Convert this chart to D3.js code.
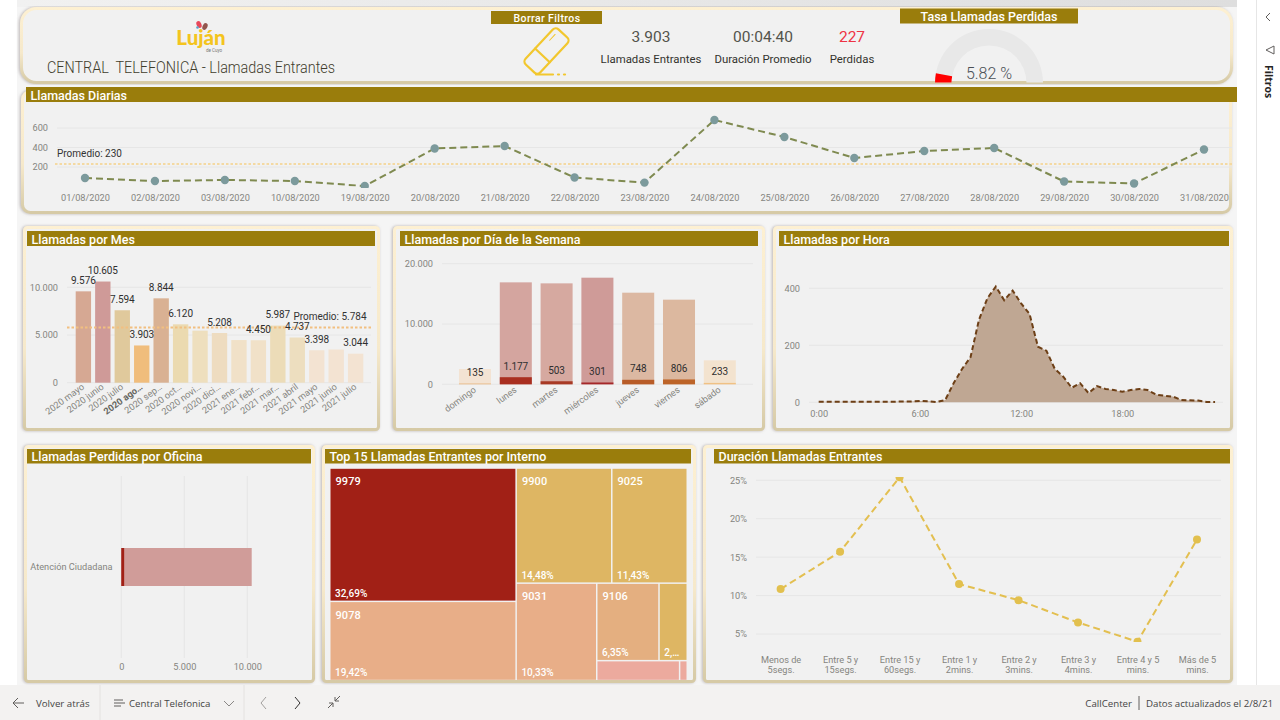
<!DOCTYPE html>
<html lang="es">
<head>
<meta charset="utf-8">
<title>Central Telefónica - Llamadas Entrantes</title>
<script src="https://cdn.jsdelivr.net/npm/d3@7"></script>
<style>
  html, body { margin: 0; padding: 0; background: #fff; overflow: hidden; }
  svg, svg text { font-family: Roboto, "Open Sans", sans-serif; }
  svg { display: block; }
  .tick text { fill: #85857f; font-size: 9.2px; }
  .grid line { stroke: #e6e6e6; stroke-width: 1; }
  .title { fill: #fff; font-size: 12.5px; font-weight: 500; }
  .value { fill: #2f2f2f; font-size: 10px; letter-spacing: -.1px; text-anchor: middle; dominant-baseline: central; }
  .kpi { fill: #54544c; font-size: 15.5px; text-anchor: middle; dominant-baseline: central; }
  .kpiName { fill: #33332e; font-size: 11.4px; text-anchor: middle; dominant-baseline: central; }
  svg text.bar { font-family: "Open Sans", sans-serif; font-size: 9.7px; fill: #454545; dominant-baseline: central; }
  svg text.brand { font-family: Lato, sans-serif; }
  svg text.side { font-family: "Open Sans", sans-serif; }
</style>
</head>
<body>
<svg id="chart" width="1280" height="720"></svg>
<script>
// Llamadas diarias (agosto 2020)
const dailyDates = ["01/08/2020","02/08/2020","03/08/2020","10/08/2020","19/08/2020","20/08/2020","21/08/2020","22/08/2020","23/08/2020","24/08/2020","25/08/2020","26/08/2020","27/08/2020","28/08/2020","29/08/2020","30/08/2020","31/08/2020"];
const dailyCalls = [87,56,67,56,5,390,415,92,40,682,508,292,364,395,51,31,380];
const dailyAverage = 230;

// Llamadas por mes
const months = ["2020 mayo","2020 junio","2020 julio","2020 ago…","2020 sep…","2020 oct…","2020 novi…","2020 dici…","2021 ene…","2021 febr…","2021 mar…","2021 abril","2021 mayo","2021 junio","2021 julio"];
const monthCalls = [9576,10605,7594,3903,8844,6120,5454,5208,4470,4450,5987,4737,3398,3480,3044];
const monthsWithLabel = ["2020 mayo","2020 junio","2020 julio","2020 ago…","2020 sep…","2020 oct…","2020 dici…","2021 febr…","2021 mar…","2021 abril","2021 mayo","2021 julio"];
const monthColors = ["#d6a893","#cf9a98","#e0c99c","#f0bd7c","#d9b193","#ebdab0","#eedfbe","#eedcc0","#f1e1c8","#f1e1c8","#ecdcb8","#eddebf","#f3e3d2","#f3e3d2","#f3e3d2"];
const monthAverage = 5784;

// Llamadas por día de la semana
const weekdays = ["domingo","lunes","martes","miércoles","jueves","viernes","sábado"];
const weekdayTotal = [2540,16906,16740,17680,15193,14033,3978];
const weekdayLost = [135,1177,503,301,748,806,233];
const weekdayTotalColors = ["#f3e3d3","#d4a59f","#d6a9a0","#cf9b98","#dcb8a2","#dcb89f","#f3e3cf"];
const weekdayLostColors = ["#e8b984","#a92f20","#a83a25","#a5282a","#b85c28","#bd6428","#f0c184"];

// Llamadas por hora, una muestra cada media hora
const hourlyCalls = [2,2,2,2,2,2,2,2,2,2,3,3,5,4,1,8,67,117,158,289,365,406,358,392,347,310,195,181,117,90,51,67,32,57,47,43,37,43,47,43,27,23,20,8,7,6,1,1];
const hourTicks = [0,6,12,18];

// Llamadas perdidas por oficina
const offices = ["Atención Ciudadana"];
const officeTotal = [10349];
const officeLost = [227];

// Top de internos, agrupados según el mosaico del treemap
const treemapLayout = {children: [
  {children: [{name: "9979", pct: 32.69, color: "#a12016"}, {name: "9078", pct: 19.42, color: "#e8ae88"}]},
  {children: [
    {children: [{name: "9900", pct: 14.48, color: "#deb663"}, {name: "9025", pct: 11.43, color: "#deb663"}]},
    {children: [
      {name: "9031", pct: 10.33, color: "#e8ae88"},
      {children: [
        {children: [{name: "9106", pct: 6.35, color: "#e4af80"}, {name: "", pct: 2.88, color: "#deb663", short: "2,…"}]},
        {children: [{name: "", pct: 2.17, color: "#ecaa9e", hidden: true}, {name: "", pct: 0.2, color: "#ecaa9e", hidden: true}]}
      ]}
    ]}
  ]}
]};

// Duración de las llamadas entrantes
const durationBands = [["Menos de","5segs."],["Entre 5 y","15segs."],["Entre 15 y","60segs."],["Entre 1 y","2mins."],["Entre 2 y","3mins."],["Entre 3 y","4mins."],["Entre 4 y 5","mins."],["Más de 5","mins."]];
const durationShare = [10.85,15.7,25.4,11.5,9.4,6.5,4.0,17.3];

// Indicadores de cabecera
const lostRate = 5.82;
const kpis = [
  {value: "3.903", name: "Llamadas Entrantes", x: 651, color: "#54544c"},
  {value: "00:04:40", name: "Duración Promedio", x: 763, color: "#54544c"},
  {value: "227", name: "Perdidas", x: 852, color: "#ee3344"}
];

const fmt = d3.formatLocale({decimal: ",", thousands: ".", grouping: [3], currency: ["$", ""]}).format(",d");
const svg = d3.select("#chart");
const gold = "#9a7d0c";

// Fondos y degradados de los marcos
const defs = svg.append("defs");
const frame = defs.append("linearGradient").attr("id", "frame").attr("x1", 0).attr("y1", 0).attr("x2", 0).attr("y2", 1);
frame.append("stop").attr("offset", "0").attr("stop-color", "#fdf0d2");
frame.append("stop").attr("offset", "0.6").attr("stop-color", "#f6e9cb");
frame.append("stop").attr("offset", "1").attr("stop-color", "#d6caa6");
const band = defs.append("linearGradient").attr("id", "band").attr("x1", 0).attr("y1", 0).attr("x2", 1).attr("y2", 0);
band.append("stop").attr("offset", "0").attr("stop-color", "#f1f1f1");
band.append("stop").attr("offset", "1").attr("stop-color", "#dedede");
const shade = defs.append("filter").attr("id", "shade").attr("x", "-3%").attr("y", "-3%").attr("width", "106%").attr("height", "106%");
shade.append("feDropShadow").attr("dx", -1).attr("dy", 0).attr("stdDeviation", 1.6).attr("flood-color", "#8a7f7f").attr("flood-opacity", .55);

function clip(id, x, y, w, h) {
  defs.append("clipPath").attr("id", id).append("rect").attr("x", x).attr("y", y).attr("width", w).attr("height", h);
}

svg.append("rect").attr("x", 17).attr("y", 0).attr("width", 1220).attr("height", 686).attr("fill", "#f5f5f5");
svg.append("rect").attr("x", 17).attr("y", 0).attr("width", 1220).attr("height", 7).attr("fill", "url(#band)");

function panel(x, y, w, h, r) {
  svg.append("rect").attr("x", x + 1.5).attr("y", y + 1.5).attr("width", w - 3).attr("height", h - 3).attr("rx", r)
    .attr("fill", "#f1f1f1").attr("stroke", "url(#frame)").attr("stroke-width", 3).attr("filter", "url(#shade)");
}
function titleBar(x, y, w, h, label) {
  svg.append("rect").attr("x", x).attr("y", y).attr("width", w).attr("height", h).attr("fill", gold);
  svg.append("text").attr("class", "title").attr("x", x + 4.5).attr("y", y + h / 2 + .5).attr("dominant-baseline", "central").text(label);
}
function valueGrid(y, x0, x1, ticks, format) {
  const axis = d3.axisLeft(y).tickValues(ticks).tickSize(0).tickPadding(0).tickFormat(format);
  const g = svg.append("g").attr("transform", `translate(${x0},0)`).call(axis);
  g.select(".domain").remove();
  const grid = svg.append("g").attr("class", "grid");
  grid.selectAll("line").data(ticks).join("line")
    .attr("x1", x0 + 9).attr("x2", x1).attr("y1", d => y(d)).attr("y2", d => y(d));
}

// Cabecera
panel(20, 7, 1213, 77, 15);

// Logotipo
const logo = svg.append("g");
logo.append("ellipse").attr("cx", 199).attr("cy", 24.5).attr("rx", 2.4).attr("ry", 3.6).attr("transform", "rotate(-25 199 24.5)").attr("fill", "#e8485a");
logo.append("ellipse").attr("cx", 205).attr("cy", 26.5).attr("rx", 2.4).attr("ry", 3.6).attr("transform", "rotate(25 205 26.5)").attr("fill", "#94564e");
logo.append("circle").attr("cx", 197.5).attr("cy", 27.5).attr("r", 1.3).attr("fill", "#5b9fc8");
logo.append("text").attr("class", "brand").attr("x", 201).attr("y", 45).attr("text-anchor", "middle").attr("font-size", 20.5).attr("font-weight", 900).attr("fill", "#f4c41e").text("Luján");
logo.append("text").attr("x", 214).attr("y", 51.5).attr("text-anchor", "middle").attr("font-size", 4.5).attr("fill", "#777").text("de Cuyo");

svg.append("text").attr("x", 47).attr("y", 67).attr("dominant-baseline", "central").attr("font-size", 16).attr("font-weight", 300).attr("fill", "#3f3d2c")
  .attr("textLength", 288).attr("lengthAdjust", "spacingAndGlyphs").style("white-space", "pre").text("CENTRAL  TELEFONICA - Llamadas Entrantes");

// Botón de borrar filtros
svg.append("rect").attr("x", 491).attr("y", 11).attr("width", 111).attr("height", 13).attr("fill", gold);
svg.append("text").attr("x", 547).attr("y", 18).attr("text-anchor", "middle").attr("dominant-baseline", "central").attr("fill", "#fff").attr("font-size", 10.5).attr("font-weight", 500).attr("letter-spacing", .4).text("Borrar Filtros");
const eraser = svg.append("g").attr("fill", "none").attr("stroke", "#f2c72e").attr("stroke-width", 2.2).attr("stroke-linecap", "round");
const eraserBody = eraser.append("g").attr("transform", "translate(546.5,51) rotate(-47)");
eraserBody.append("rect").attr("x", -24).attr("y", -10).attr("width", 48).attr("height", 20).attr("rx", 4);
eraserBody.append("line").attr("x1", -6).attr("x2", -6).attr("y1", -10).attr("y2", 10);
eraserBody.append("line").attr("x1", 10).attr("x2", 18).attr("y1", -5).attr("y2", -5).attr("stroke-width", 1);
eraser.append("line").attr("x1", 536).attr("x2", 553).attr("y1", 74.5).attr("y2", 74.5);
eraser.append("line").attr("x1", 558).attr("x2", 559).attr("y1", 74.5).attr("y2", 74.5);
eraser.append("line").attr("x1", 564).attr("x2", 565).attr("y1", 74.5).attr("y2", 74.5);

// Indicadores
kpis.forEach(k => {
  svg.append("text").attr("class", "kpi").attr("x", k.x).attr("y", 37).style("fill", k.color).text(k.value);
  svg.append("text").attr("class", "kpiName").attr("x", k.x).attr("y", 59).text(k.name);
});

// Indicador radial de tasa de pérdidas
clip("gaugeClip", -89, -59, 178, 58.5);
const gauge = svg.append("g").attr("transform", "translate(989,83)").attr("clip-path", "url(#gaugeClip)");
const gaugeAngle = d3.scaleLinear().domain([0, 100]).range([-Math.PI / 2, Math.PI / 2]);
const gaugeArc = d3.arc().innerRadius(37.5).outerRadius(54);
gauge.append("path").attr("d", gaugeArc({startAngle: gaugeAngle(0), endAngle: gaugeAngle(100)})).attr("fill", "#e8e8e8");
gauge.append("path").attr("d", gaugeArc({startAngle: gaugeAngle(0), endAngle: gaugeAngle(lostRate)})).attr("fill", "#ff0000");
svg.append("text").attr("x", 989).attr("y", 73).attr("text-anchor", "middle").attr("dominant-baseline", "central").attr("font-size", 16).attr("font-weight", 300).attr("fill", "#4a4f55").text(d3.format(".2f")(lostRate) + " %");
svg.append("rect").attr("x", 900).attr("y", 8.5).attr("width", 178).attr("height", 15).attr("fill", gold);
svg.append("text").attr("class", "title").attr("x", 989).attr("y", 16.5).attr("text-anchor", "middle").attr("dominant-baseline", "central").text("Tasa Llamadas Perdidas");

// Llamadas diarias
panel(21, 90, 1211, 124, 8);
titleBar(26, 87, 1211, 15, "Llamadas Diarias");
{
  const x = d3.scalePoint().domain(dailyDates).range([85, 1204]);
  const y = d3.scaleLinear().domain([0, 600]).range([186.5, 128]);
  valueGrid(y, 48, 1232, [200, 400, 600], d3.format("d"));
  const xAxis = svg.append("g").attr("transform", "translate(0,197)").call(d3.axisBottom(x).tickSize(0).tickPadding(0));
  xAxis.select(".domain").remove();
  xAxis.selectAll("text").attr("dominant-baseline", "central").attr("dy", 0);
  svg.append("line").attr("x1", 55).attr("x2", 1232).attr("y1", y(dailyAverage)).attr("y2", y(dailyAverage))
    .attr("stroke", "#f4d9a2").attr("stroke-width", 2).attr("stroke-dasharray", "2.5 2");
  svg.append("text").attr("x", 57).attr("y", 153).attr("dominant-baseline", "central").attr("font-size", 10).attr("fill", "#333").text("Promedio: " + dailyAverage);
  clip("dailyClip", 40, 105, 1192, 83);
  const g = svg.append("g").attr("clip-path", "url(#dailyClip)");
  g.append("path").attr("d", d3.line().x((d, i) => x(dailyDates[i])).y(d => y(d))(dailyCalls))
    .attr("fill", "none").attr("stroke", "#7f8a50").attr("stroke-width", 2).attr("stroke-dasharray", "7 4");
  g.selectAll("circle").data(dailyCalls).join("circle")
    .attr("cx", (d, i) => x(dailyDates[i])).attr("cy", d => y(d)).attr("r", 4.2).attr("fill", "#7c9a9c");
}

// Llamadas por mes
panel(23, 226, 357, 205, 3);
titleBar(27, 231, 348, 15, "Llamadas por Mes");
{
  const x = d3.scaleBand().domain(months).range([73.75, 365.25]).paddingInner(.21).paddingOuter(.1);
  const y = d3.scaleLinear().domain([0, 10000]).range([382.7, 287.3]);
  valueGrid(y, 58, 371, [0, 5000, 10000], fmt);
  svg.selectAll(".monthBar").data(monthCalls).join("rect").attr("class", "monthBar")
    .attr("x", (d, i) => x(months[i])).attr("width", x.bandwidth())
    .attr("y", d => y(d)).attr("height", d => y(0) - y(d)).attr("fill", (d, i) => monthColors[i]);
  svg.append("line").attr("x1", 67).attr("x2", 371).attr("y1", y(monthAverage)).attr("y2", y(monthAverage))
    .attr("stroke", "#f2bf80").attr("stroke-width", 2.2).attr("stroke-dasharray", "2.5 2");
  svg.append("text").attr("x", 330).attr("y", 316).attr("text-anchor", "middle").attr("dominant-baseline", "central").attr("font-size", 10).attr("fill", "#333").text("Promedio: " + fmt(monthAverage));
  svg.selectAll(".monthVal").data(monthCalls.map((v, i) => ({v, m: months[i]})).filter(d => monthsWithLabel.includes(d.m))).join("text")
    .attr("class", "monthVal value").attr("x", d => x(d.m) + x.bandwidth() / 2).attr("y", d => y(d.v) - 11).text(d => fmt(d.v));
  const xAxis = svg.append("g").attr("transform", "translate(0,386)").call(d3.axisBottom(x).tickSize(0).tickPadding(0));
  xAxis.select(".domain").remove();
  xAxis.selectAll("text").attr("text-anchor", "end").attr("dy", "0.3em").attr("transform", "rotate(-36)")
    .attr("font-weight", d => d === "2020 ago…" ? 700 : null).style("fill", d => d === "2020 ago…" ? "#66665f" : null);
}

// Llamadas por día de la semana
panel(393, 226, 372, 205, 3);
titleBar(400, 231, 358, 15, "Llamadas por Día de la Semana");
{
  const x = d3.scaleBand().domain(weekdays).range([454.9, 739.9]).paddingInner(.215).paddingOuter(.1);
  const y = d3.scaleLinear().domain([0, 20000]).range([384.3, 263.7]);
  valueGrid(y, 433, 753, [0, 10000, 20000], fmt);
  svg.selectAll(".weekTotal").data(weekdayTotal).join("rect").attr("class", "weekTotal")
    .attr("x", (d, i) => x(weekdays[i])).attr("width", x.bandwidth())
    .attr("y", d => y(d)).attr("height", d => y(0) - y(d)).attr("fill", (d, i) => weekdayTotalColors[i]);
  svg.selectAll(".weekLost").data(weekdayLost).join("rect").attr("class", "weekLost")
    .attr("x", (d, i) => x(weekdays[i])).attr("width", x.bandwidth())
    .attr("y", d => y(d)).attr("height", d => y(0) - y(d)).attr("fill", (d, i) => weekdayLostColors[i]);
  svg.selectAll(".weekVal").data(weekdayLost).join("text").attr("class", "weekVal value")
    .attr("x", (d, i) => x(weekdays[i]) + x.bandwidth() / 2).attr("y", d => y(d) - 11).text(d => fmt(d));
  const xAxis = svg.append("g").attr("transform", "translate(0,389)").call(d3.axisBottom(x).tickSize(0).tickPadding(0));
  xAxis.select(".domain").remove();
  xAxis.selectAll("text").attr("text-anchor", "end").attr("dy", "0.3em").attr("transform", "rotate(-36)");
}

// Llamadas por hora
panel(773, 226, 460, 205, 3);
titleBar(779, 231, 450, 15, "Llamadas por Hora");
{
  const x = d3.scaleLinear().domain([0, 24]).range([818.7, 1223.5]);
  const y = d3.scaleLinear().domain([0, 400]).range([402.3, 288.3]);
  valueGrid(y, 800, 1223, [0, 200, 400], d3.format("d"));
  const hour = (d, i) => x(i / 2);
  svg.append("path").attr("d", d3.area().x(hour).y0(y(0)).y1(d => y(d))(hourlyCalls)).attr("fill", "#bfa793");
  svg.append("path").attr("d", d3.line().x(hour).y(d => y(d))(hourlyCalls))
    .attr("fill", "none").attr("stroke", "#6d3f16").attr("stroke-width", 2).attr("stroke-dasharray", "5 3");
  const xAxis = svg.append("g").attr("transform", "translate(0,413)")
    .call(d3.axisBottom(x).tickValues(hourTicks).tickSize(0).tickPadding(0).tickFormat(d => d + ":00"));
  xAxis.select(".domain").remove();
  xAxis.selectAll("text").attr("dominant-baseline", "central").attr("dy", 0);
}

// Llamadas perdidas por oficina
panel(24, 445, 291, 238, 3);
titleBar(27, 449, 284, 14.5, "Llamadas Perdidas por Oficina");
{
  const x = d3.scaleLinear().domain([0, 10000]).range([121.3, 247.3]);
  const y = d3.scaleBand().domain(offices).range([476, 658]).paddingInner(.2).paddingOuter(.4);
  const ticks = [0, 5000, 10000];
  const grid = svg.append("g").attr("class", "grid");
  grid.selectAll("line").data(ticks).join("line").attr("x1", d => x(d)).attr("x2", d => x(d)).attr("y1", 476).attr("y2", 658);
  const xAxis = svg.append("g").attr("transform", "translate(0,666.5)").call(d3.axisBottom(x).tickValues(ticks).tickSize(0).tickPadding(0).tickFormat(fmt));
  xAxis.select(".domain").remove();
  xAxis.selectAll("text").attr("dominant-baseline", "central").attr("dy", 0);
  const yAxis = svg.append("g").attr("transform", "translate(112.5,0)").call(d3.axisLeft(y).tickSize(0).tickPadding(0));
  yAxis.select(".domain").remove();
  const thickness = 38;
  const barY = d => y(d) + y.bandwidth() / 2 - thickness / 2;
  svg.selectAll(".officeTotal").data(officeTotal).join("rect").attr("class", "officeTotal")
    .attr("x", x(0)).attr("y", (d, i) => barY(offices[i])).attr("width", d => x(d) - x(0)).attr("height", thickness).attr("fill", "#d09c99");
  svg.selectAll(".officeLost").data(officeLost).join("rect").attr("class", "officeLost")
    .attr("x", x(0)).attr("y", (d, i) => barY(offices[i])).attr("width", d => x(d) - x(0)).attr("height", thickness).attr("fill", "#a12016");
}

// Top 15 de internos
panel(322, 445, 374, 238, 3);
titleBar(325, 449, 366, 14.5, "Top 15 Llamadas Entrantes por Interno");
{
  const root = d3.hierarchy(treemapLayout).sum(d => d.pct || 0);
  d3.treemap().tile(d3.treemapSliceDice).size([356, 211]).paddingInner(1.5)(root);
  const g = svg.append("g").attr("transform", "translate(330.5,468.8)");
  const cells = g.selectAll("g").data(root.leaves()).join("g").attr("transform", d => `translate(${d.x0},${d.y0})`);
  cells.append("rect").attr("width", d => d.x1 - d.x0).attr("height", d => d.y1 - d.y0).attr("fill", d => d.data.color);
  cells.filter(d => d.data.name).append("text").attr("x", 5).attr("y", 13).attr("dominant-baseline", "central")
    .attr("fill", "#fff").attr("font-size", 11).attr("font-weight", 500).attr("letter-spacing", .1).text(d => d.data.name);
  cells.filter(d => !d.data.hidden).append("text").attr("x", 4.5).attr("y", d => d.y1 - d.y0 - 7).attr("dominant-baseline", "central")
    .attr("fill", "#fff").attr("font-size", 10).attr("font-weight", 500)
    .text(d => d.data.short || d3.format(".2f")(d.data.pct).replace(".", ",") + "%");
}

// Duración de las llamadas
panel(703, 445, 530, 238, 3);
titleBar(714, 449, 516, 14.5, "Duración Llamadas Entrantes");
{
  const labels = durationBands.map(d => d.join(" "));
  const x = d3.scalePoint().domain(labels).range([780.6, 1197]);
  const y = d3.scaleLinear().domain([5, 25]).range([634, 480.3]);
  valueGrid(y, 747, 1221, [5, 10, 15, 20, 25], d => d + "%");
  clip("durationClip", 745, 477, 480, 165);
  const g = svg.append("g").attr("clip-path", "url(#durationClip)");
  g.append("path").attr("d", d3.line().x((d, i) => x(labels[i])).y(d => y(d))(durationShare))
    .attr("fill", "none").attr("stroke", "#e3bf50").attr("stroke-width", 2).attr("stroke-dasharray", "7 4");
  g.selectAll("circle").data(durationShare).join("circle")
    .attr("cx", (d, i) => x(labels[i])).attr("cy", d => y(d)).attr("r", 4).attr("fill", "#e2c04e");
  const xAxis = svg.append("g").attr("transform", "translate(0,658.5)").call(d3.axisBottom(x).tickSize(0).tickPadding(0));
  xAxis.select(".domain").remove();
  xAxis.selectAll("text").text(null).attr("dy", 0).attr("dominant-baseline", "central")
    .each(function(d, i) {
      const t = d3.select(this);
      durationBands[i].forEach((line, k) => t.append("tspan").attr("x", 0).attr("y", k * 10).text(line));
    });
}

// Barra inferior de navegación
svg.append("rect").attr("x", 0).attr("y", 685).attr("width", 1280).attr("height", 35).attr("fill", "#f3f2f1");
[100, 244].forEach(x => svg.append("line").attr("x1", x).attr("x2", x).attr("y1", 685).attr("y2", 720).attr("stroke", "#e4e2e0"));
const nav = svg.append("g").attr("fill", "none").attr("stroke", "#605e5c").attr("stroke-width", 1);
nav.append("path").attr("d", "M24 703H13M18 698l-5 5 5 5");
nav.append("path").attr("d", "M114 700h9M114 703h11M114 706h7");
nav.append("path").attr("d", "M224 701l5 5 5-5").attr("stroke", "#8a8886");
nav.append("path").attr("d", "M266 697l-5 6 5 6").attr("stroke", "#a19f9d");
nav.append("path").attr("d", "M295 697l5 6-5 6").attr("stroke", "#323130");
nav.append("path").attr("d", "M328 708l5-5M333 703h-4M333 703v4M340 696l-5 5M335 701h4M335 701v-4").attr("stroke", "#605e5c");
svg.append("text").attr("class", "bar").attr("x", 36).attr("y", 703).text("Volver atrás");
svg.append("text").attr("class", "bar").attr("x", 129).attr("y", 703).text("Central Telefonica");
svg.append("text").attr("class", "bar").attr("x", 1132).attr("y", 703).attr("text-anchor", "end").text("CallCenter");
svg.append("line").attr("x1", 1139).attr("x2", 1139).attr("y1", 696).attr("y2", 710).attr("stroke", "#605e5c");
svg.append("text").attr("class", "bar").attr("x", 1146).attr("y", 703).text("Datos actualizados el 2/8/21");

// Panel lateral de filtros
svg.append("line").attr("x1", 1256.5).attr("x2", 1256.5).attr("y1", 0).attr("y2", 685).attr("stroke", "#e6e6e6");
const side = svg.append("g").attr("fill", "none").attr("stroke", "#605e5c");
side.append("path").attr("d", "M1270 13l-4 4 4 4");
side.append("path").attr("d", "M1274 46l-8 4 8 4z");
svg.append("text").attr("class", "side").attr("transform", "translate(1265,65) rotate(90)").attr("font-size", 10.5).attr("font-weight", 700).attr("fill", "#252423").text("Filtros");
</script>
</body>
</html>
